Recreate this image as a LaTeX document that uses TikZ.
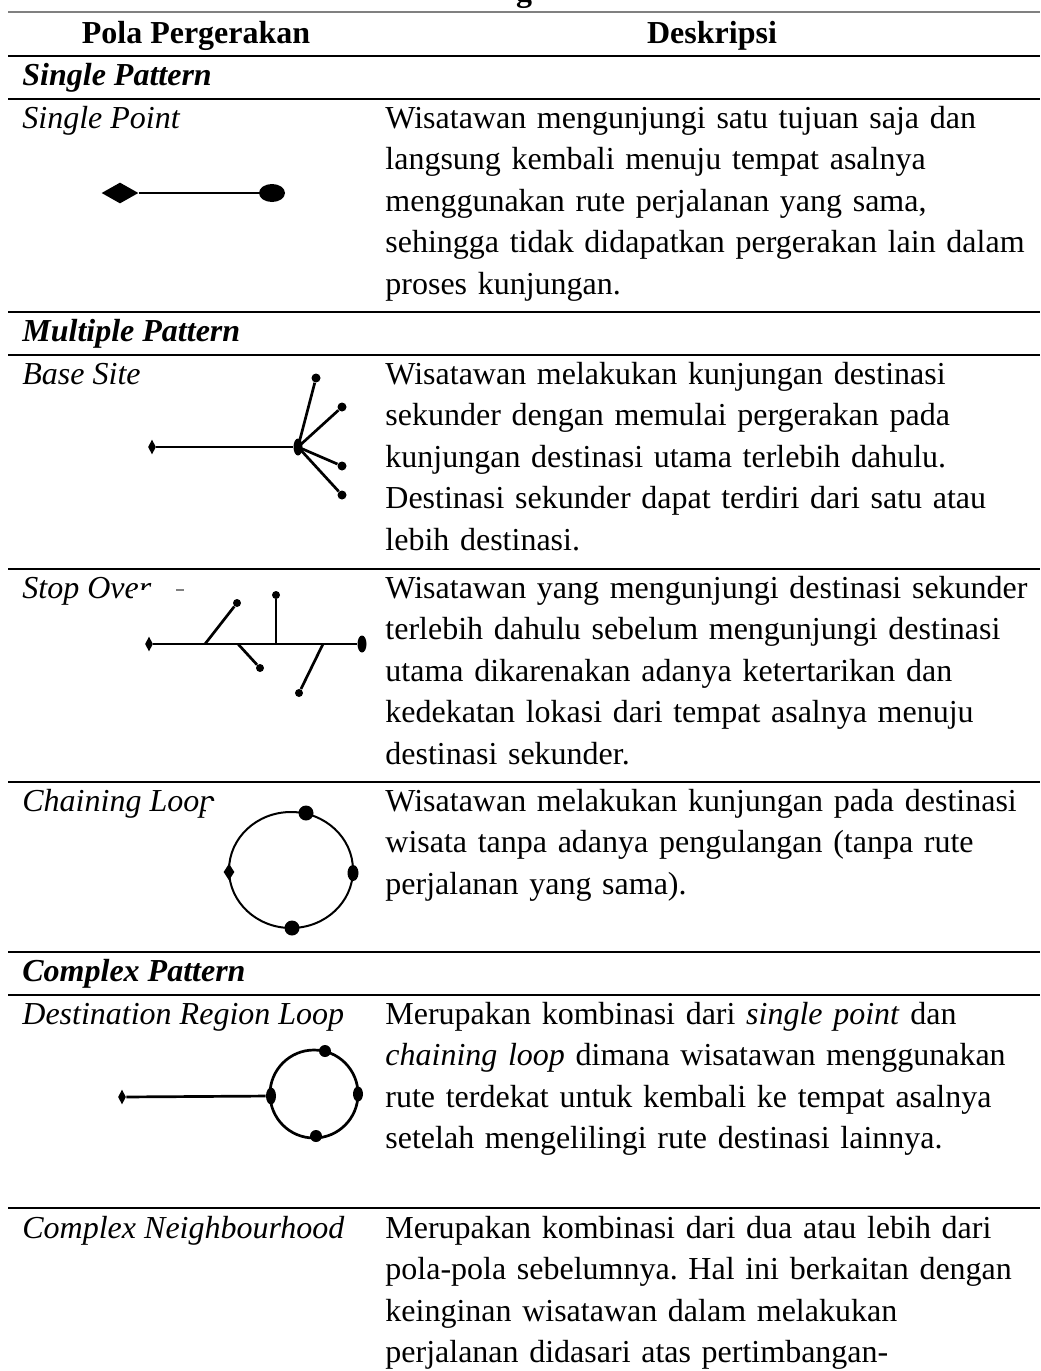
\documentclass[tikz,border=0pt]{standalone}
\usepackage{fontspec}
\setmainfont{Liberation Serif}
\usepackage{xcolor}
\usetikzlibrary{shapes.geometric}
\definecolor{rulegray}{RGB}{128,128,128}

\tikzset{
    toprule/.style={rulegray, line width=1pt},
    rowrule/.style={black, line width=1.3pt},
    headtxt/.style={font=\fontsize{16}{20.75}\selectfont\bfseries, anchor=base, inner sep=0pt},
    grptxt/.style={font=\fontsize{16}{20.75}\selectfont\bfseries\itshape, anchor=base west, inner sep=0pt},
    polatxt/.style={font=\fontsize{16}{20.75}\selectfont\itshape, anchor=base west, inner sep=0pt},
    desctxt/.style={font=\fontsize{16}{20.75}\selectfont\frenchspacing, anchor=base west, inner sep=0pt, text width=345pt, align=left},
    origin/.style={diamond, fill=black, inner sep=0pt},
    blob/.style={ellipse, fill=black, inner sep=0pt},
    dest/.style={circle, fill=black, inner sep=0pt, minimum size=4.5pt},
    route/.style={line width=1.35pt},
}

\begin{document}
\begin{tikzpicture}[x=0.5pt, y=-0.5pt]
    \useasboundingbox (0,0) rectangle (1040,1371);
    \clip (0,0) rectangle (1040,1371);

    % caption rest and table rules
    \node[headtxt] (capg) at (524,1) {g};
    \draw[toprule] (8,12) -- (1040,12);
    \foreach \y in {56,99,312,355,569,782,952,995,1208}
        \draw[rowrule] (8,\y) -- (1040,\y);

    % header
    \node[headtxt] (h-pola) at (196,43) {Pola Pergerakan};
    \node[headtxt] (h-desk) at (712,43) {Deskripsi};

    % single pattern
    \node[grptxt] (g-single) at (22,85) {Single Pattern};
    \node[polatxt] (p-point) at (22,128) {Single Point};
    \node[desctxt] (d-point) at (385,128) {Wisatawan mengunjungi satu tujuan saja dan\\
        langsung kembali menuju tempat asalnya\\
        menggunakan rute perjalanan yang sama,\\
        sehingga tidak didapatkan pergerakan lain dalam\\
        proses kunjungan.};
    \node[origin, minimum width=18.5pt, minimum height=10.5pt] (sp-o) at (120,193) {};
    \node[blob, minimum width=13pt, minimum height=9pt] (sp-d) at (272,193) {};
    \draw[line width=0.7pt] (sp-o) -- (sp-d);

    % multiple pattern
    \node[grptxt] (g-multi) at (22,341) {Multiple Pattern};

    % base site
    \node[polatxt] (p-base) at (22,384) {Base Site};
    \node[desctxt] (d-base) at (385,384) {Wisatawan melakukan kunjungan destinasi\\
        sekunder dengan memulai pergerakan pada\\
        kunjungan destinasi utama terlebih dahulu.\\
        Destinasi sekunder dapat terdiri dari satu atau\\
        lebih destinasi.};
    \node[origin, minimum width=4pt, minimum height=7.5pt] (bs-o) at (152,447) {};
    \node[blob, minimum width=4.5pt, minimum height=8.5pt] (bs-h) at (298,447) {};
    \foreach \dx/\dy [count=\i] in {316/378, 342/407, 342/466, 342/495}
        \node[dest] (bs-\i) at (\dx,\dy) {};
    \draw[route] (bs-o) -- (bs-h);
    \foreach \i in {1,...,4}
        \draw[route] (bs-h.center) -- (bs-\i);

    % stop over
    \node[polatxt] (p-stop) at (22,598) {Stop Over};
    \node[desctxt] (d-stop) at (385,598) {Wisatawan yang mengunjungi destinasi sekunder\\
        terlebih dahulu sebelum mengunjungi destinasi\\
        utama dikarenakan adanya ketertarikan dan\\
        kedekatan lokasi dari tempat asalnya menuju\\
        destinasi sekunder.};
    \fill[white] (133,590) rectangle (380,775);
    \draw[gray, line width=0.6pt] (176,590) -- (184,590);
    \node[origin, minimum width=4pt, minimum height=7.5pt] (so-o) at (149,644) {};
    \node[blob, minimum width=4.5pt, minimum height=8.5pt] (so-d) at (362,644) {};
    \draw[route] (so-o) -- (so-d);
    \foreach \jx/\dx/\dy [count=\i] in {205/237/603, 276/276/595, 238/260/668, 323/299/693} {
        \coordinate (so-j\i) at (\jx,644);
        \node[dest, minimum size=4pt] (so-\i) at (\dx,\dy) {};
        \draw[route] (so-j\i) -- (so-\i);
    }

    % chaining loop
    \node[polatxt] (p-chain) at (22,811) {Chaining Loop};
    \node[desctxt] (d-chain) at (385,811) {Wisatawan melakukan kunjungan pada destinasi\\
        wisata tanpa adanya pengulangan (tanpa rute\\
        perjalanan yang sama).};
    \fill[white] (206,801) rectangle (380,945);
    \draw[line width=1pt] (291,870) ellipse [x radius=31pt, y radius=29pt];
    \node[origin, minimum width=5.5pt, minimum height=8.5pt] (cl-o) at (229,872) {};
    \node[dest, minimum size=7.5pt] (cl-1) at (306,813) {};
    \node[blob, minimum width=5.5pt, minimum height=8pt] (cl-2) at (353,873) {};
    \node[dest, minimum size=7.5pt] (cl-3) at (292,928) {};

    % complex pattern
    \node[grptxt] (g-complex) at (22,981) {Complex Pattern};

    % destination region loop
    \node[polatxt] (p-region) at (22,1024) {Destination Region Loop};
    \node[desctxt] (d-region) at (385,1024) {Merupakan kombinasi dari \textit{single point} dan\\
        \textit{chaining loop} dimana wisatawan menggunakan\\
        rute terdekat untuk kembali ke tempat asalnya\\
        setelah mengelilingi rute destinasi lainnya.};
    \draw[route] (314,1094) circle [radius=22pt];
    \node[origin, minimum width=4pt, minimum height=7.5pt] (dr-o) at (122,1097) {};
    \node[blob, minimum width=5pt, minimum height=8.5pt] (dr-h) at (271,1096) {};
    \node[dest, minimum size=6pt] (dr-1) at (325,1051) {};
    \node[blob, minimum width=5pt, minimum height=7.5pt] (dr-2) at (358,1094) {};
    \node[dest, minimum size=6pt] (dr-3) at (316,1136) {};
    \draw[route] (dr-o) -- (dr-h);

    % complex neighbourhood
    \node[polatxt] (p-neigh) at (22,1238) {Complex Neighbourhood};
    \node[desctxt] (d-neigh) at (385,1238) {Merupakan kombinasi dari dua atau lebih dari\\
        pola-pola sebelumnya. Hal ini berkaitan dengan\\
        keinginan wisatawan dalam melakukan\\
        perjalanan didasari atas pertimbangan-};
\end{tikzpicture}
\end{document}
